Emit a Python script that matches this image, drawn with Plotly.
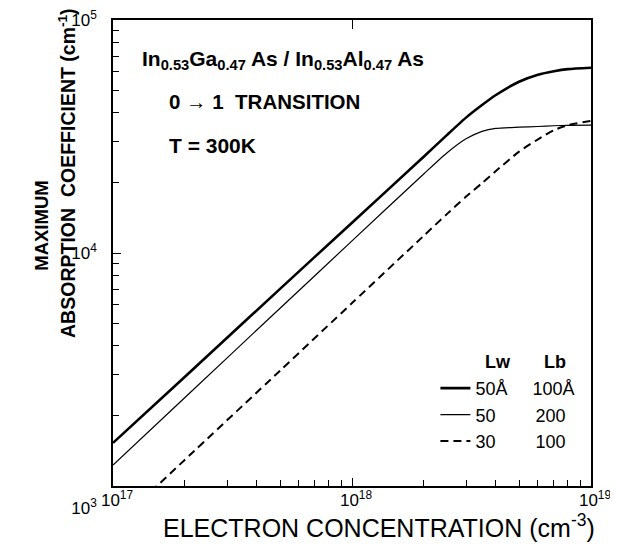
import plotly.graph_objects as go

# Electron concentration (cm^-3)
conc = [1e17, 2e17, 5e17, 1e18, 2e18, 2.5e18, 3e18, 3.5e18, 4e18, 5e18, 6e18, 7e18, 8e18, 1e19]

# Maximum absorption coefficient (cm^-1)
alpha_50_100 = [1531, 2944, 7015, 13490, 25940, 32140, 38110, 43150, 47640, 54330, 58210, 60260, 61520, 62370]
alpha_50_200 = [1230, 2399, 5794, 11270, 21880, 26920, 30900, 33270, 34280, 34670, 34910, 35160, 35320, 35400]
alpha_30_100 = [665, 1297, 3126, 6095, 11880, 14720, 17460, 19950, 22490, 27230, 30760, 33650, 35400, 36900]

series_names = ["50Å" + "&nbsp;" * 5 + "100Å",
                "50" + "&nbsp;" * 8 + "200",
                "30" + "&nbsp;" * 8 + "100"]

x_major = [1e17, 1e18, 1e19]
x_major_text = ["10<sup>17</sup>", "10<sup>18</sup>", "10<sup>19</sup>"]
y_major = [1e3, 1e4, 1e5]
y_major_text = ["<br><br>10<sup>3</sup>", "10<sup>4</sup>", "10<sup>5</sup>"]
mult = [2, 3, 4, 5, 6, 7, 8, 9]
x_minor = [m * d for d in (1e17, 1e18) for m in mult]
y_minor = [m * d for d in (1e3, 1e4) for m in mult]

FONT = "Liberation Sans, Arial, sans-serif"

fig = go.Figure()
fig.add_trace(go.Scatter(x=conc, y=alpha_50_100, mode="lines", name=series_names[0],
                         line=dict(color="black", width=2.6, shape="spline", smoothing=0.6)))
fig.add_trace(go.Scatter(x=conc, y=alpha_50_200, mode="lines", name=series_names[1],
                         line=dict(color="black", width=1.2, shape="spline", smoothing=0.6)))
fig.add_trace(go.Scatter(x=conc, y=alpha_30_100, mode="lines", name=series_names[2],
                         line=dict(color="black", width=2.0, dash="8px,5px", shape="spline", smoothing=0.6)))
# invisible helper so the top axis (single tick at 10^18) is drawn
fig.add_trace(go.Scatter(x=[x_major[0], x_major[-1]], y=[y_major[0], y_major[0]], xaxis="x2",
                         mode="none", showlegend=False, hoverinfo="skip"))

axis_common = dict(type="log", showgrid=False, zeroline=False, showline=True, linecolor="black",
                   linewidth=1.5, mirror=True, ticks="inside", ticklen=8, tickwidth=1.2, tickcolor="black",
                   automargin=False, ticklabeloverflow="allow",
                   tickfont=dict(family=FONT, size=17, color="black"))

# page body has an 8px margin: figure is sized/margined so the plot box lands at x 113-591, y 20-486
fig.update_layout(
    width=610, height=538,
    margin=dict(l=105, r=27, t=12, b=60),
    plot_bgcolor="white", paper_bgcolor="white",
    font=dict(family=FONT, color="black"),
    xaxis=dict(range=[17, 19], tickvals=x_major, ticktext=x_major_text, ticklabelshift=4,
               ticklabelstandoff=-2,
               minor=dict(tickvals=x_minor, ticks="inside", ticklen=6, tickcolor="black", tickwidth=1.2),
               **axis_common),
    yaxis=dict(range=[3, 5], tickvals=y_major, ticktext=y_major_text, ticklabelstandoff=11,
               minor=dict(tickvals=y_minor, ticks="inside", ticklen=6, tickcolor="black", tickwidth=1.2),
               **axis_common),
    xaxis2=dict(type="log", range=[17, 19], overlaying="x", side="top", anchor="y",
                showgrid=False, zeroline=False, showline=False, ticks="inside", automargin=False,
                ticklen=9, tickwidth=1.4, tickcolor="black",
                tickvals=[x_major[1]], showticklabels=False),
    showlegend=True,
    legend=dict(x=0.6745, y=0.249, xanchor="left", yanchor="top", bgcolor="rgba(0,0,0,0)",
                font=dict(family=FONT, size=18, color="black"), tracegroupgap=0, itemwidth=30),
)

annotations = [
    dict(text="<b>In<sub>0.53</sub>Ga<sub>0.47</sub> As / In<sub>0.53</sub>Al<sub>0.47</sub> As</b>",
         x=0.0565, y=0.914, font=dict(size=21)),
    dict(text="<b>0 → 1  TRANSITION</b>", x=0.113, y=0.826, font=dict(size=20.5)),
    dict(text="<b>T = 300K</b>", x=0.113, y=0.73, font=dict(size=21)),
    dict(text="<b>Lw</b>", x=0.774, y=0.266, font=dict(size=18)),
    dict(text="<b>Lb</b>", x=0.898, y=0.266, font=dict(size=18)),
]
for a in annotations:
    fig.add_annotation(xref="paper", yref="paper", xanchor="left", yanchor="middle",
                       showarrow=False, **a)

fig.add_annotation(text="ELECTRON CONCENTRATION (cm<sup>-3</sup>)", xref="paper", yref="paper",
                   x=0.556, y=-0.0858, xanchor="center", yanchor="middle", showarrow=False,
                   font=dict(size=25))
fig.add_annotation(text="<b>MAXIMUM</b>", xref="paper", yref="paper", x=-0.149, y=0.558,
                   xanchor="center", yanchor="middle", textangle=-90, showarrow=False,
                   font=dict(size=18.5))
fig.add_annotation(text="<b>ABSORPTION  COEFFICIENT (cm<sup>-1</sup>)</b>", xref="paper", yref="paper",
                   x=-0.096, y=0.672, xanchor="center", yanchor="middle", textangle=-90,
                   showarrow=False, font=dict(size=19.5))

fig.write_html("out.html")
